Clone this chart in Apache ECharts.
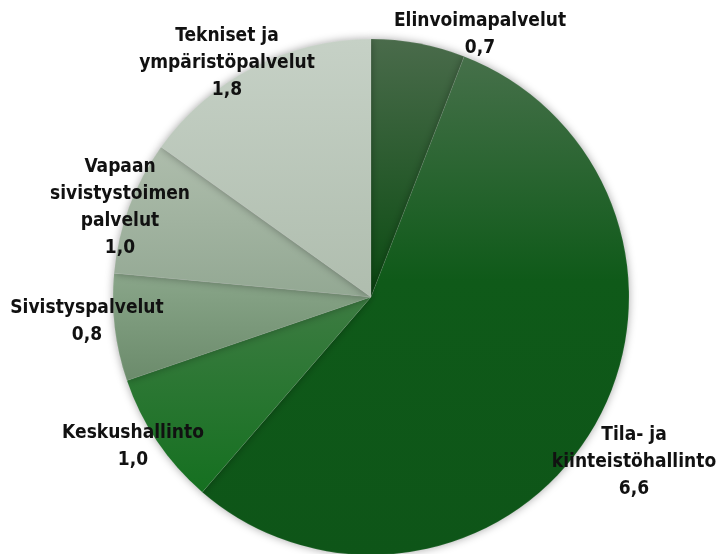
<!DOCTYPE html>
<html><head><meta charset="utf-8">
<script src="https://cdn.jsdelivr.net/npm/echarts@6/dist/echarts.min.js"></script>
<style>html,body{margin:0;padding:0;background:#fff}#c{width:716px;height:554px}</style>
</head><body><div id="c"></div>
<script>
const categories = ['Elinvoimapalvelut', 'Tila- ja\nkiinteistöhallinto', 'Keskushallinto', 'Sivistyspalvelut', 'Vapaan\nsivistystoimen\npalvelut', 'Tekniset ja\nympäristöpalvelut'];
const values = [0.7, 6.6, 1.0, 0.8, 1.0, 1.8];

const gradients = [
  ['#4a6b4b', '#0a4b11'],
  ['#46704a', '#0f5a19', '#0e5518'],
  ['#3d7c42', '#157020'],
  ['#8aa68a', '#6b8b6b'],
  ['#aebdac', '#93a893'],
  ['#c6d1c6', '#afbdae']
];
const labelPos = [[480, 35], [634, 462], [133, 447], [87, 322], [120, 208], [227, 63]];

function grad(stops) {
  const cs = stops.map((c, i) => ({offset: stops.length === 3 ? [0, 0.45, 1][i] : i, color: c}));
  return new echarts.graphic.LinearGradient(0, 0, 0, 1, cs);
}

const chart = echarts.init(document.getElementById('c'));
chart.setOption({
  animation: false,
  series: [{
    type: 'pie',
    center: [371, 297],
    radius: 258,
    startAngle: 90,
    clockwise: true,
    data: categories.map((n, i) => ({name: n, value: values[i], itemStyle: {color: grad(gradients[i])}})),
    itemStyle: {borderColor: 'rgba(255,255,255,0.15)', borderWidth: 0.6, shadowBlur: 8, shadowColor: 'rgba(0,0,0,0.35)'},
    label: {
      show: true,
      position: 'inside',
      overflow: 'none',
      formatter: p => p.name + '\n' + p.value.toFixed(1).replace('.', ','),
      fontFamily: '"Liberation Sans Narrow", "DejaVu Sans Condensed", sans-serif',
      fontWeight: 'bold',
      fontSize: 19,
      lineHeight: 27,
      color: '#111',
      align: 'center'
    },
    labelLine: {show: false},
    labelLayout: p => ({x: labelPos[p.dataIndex][0], y: labelPos[p.dataIndex][1], align: 'center', verticalAlign: 'middle'})
  }]
});
</script></body></html>
